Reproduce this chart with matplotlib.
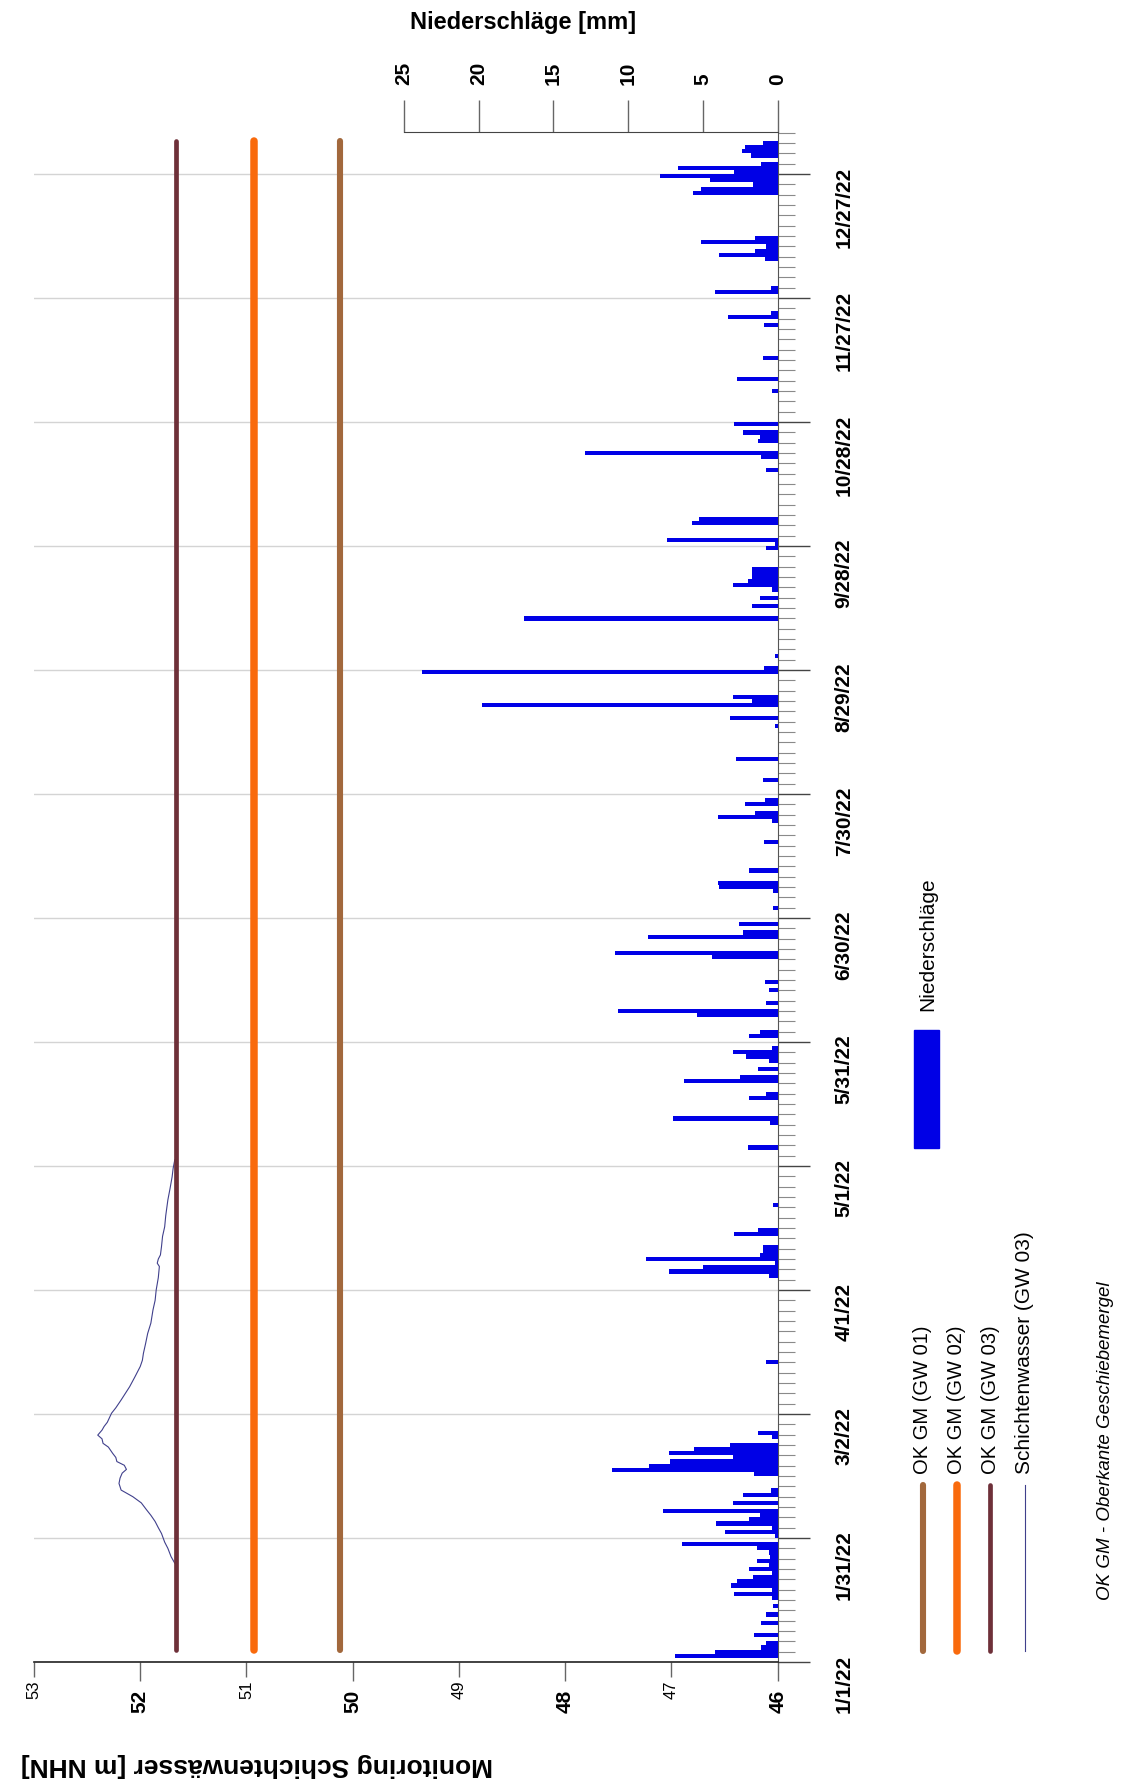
import numpy as np
import matplotlib
matplotlib.use('Agg')
import matplotlib.pyplot as plt
from matplotlib.lines import Line2D
from matplotlib.patches import Rectangle
from matplotlib.ticker import FixedLocator, MultipleLocator

plt.rcParams['font.family'] = ['Liberation Sans', 'DejaVu Sans']

START = np.datetime64('2022-01-01')

tick_dates = ['2022-01-01', '2022-01-31', '2022-03-02', '2022-04-01', '2022-05-01',
              '2022-05-31', '2022-06-30', '2022-07-30', '2022-08-29', '2022-09-28',
              '2022-10-28', '2022-11-27', '2022-12-27']
tick_labels = ['1/1/22', '1/31/22', '3/2/22', '4/1/22', '5/1/22', '5/31/22', '6/30/22',
               '7/30/22', '8/29/22', '9/28/22', '10/28/22', '11/27/22', '12/27/22']

# Oberkante Geschiebemergel der drei Messstellen
okgm_names = ['OK GM (GW 01)', 'OK GM (GW 02)', 'OK GM (GW 03)']
okgm_level = [50.12, 50.93, 51.66]
okgm_colors = ['#a2683c', '#f96a0c', '#6e3039']
okgm_lw = [4.4, 5.4, 3.4]
okgm_start = '2022-01-04'
okgm_end = '2023-01-04'

# Schichtenwasser GW 03 (Tage ab 1.1.22, m NHN)
sw_day = [23.9, 25.5, 27.5, 29.0, 31.1, 32.5, 34.0, 35.5, 36.8, 38.5, 40.0, 41.6, 43.2,
          44.5, 45.7, 46.6, 47.6, 48.5, 49.5, 50.5, 52.0, 52.9, 54.0, 54.9, 56.1, 57.0,
          58.0, 60.2, 61.5, 63.4, 65.0, 66.6, 69.0, 71.5, 73.0, 74.7, 77.0, 79.5, 82.0,
          85.2, 87.5, 90.0, 93.0, 95.7, 96.5, 97.5, 98.5, 100.5, 103.0, 105.3, 108.0,
          111.8, 114.5, 117.4, 119.5, 121.5]
sw_level = [51.675, 51.71, 51.74, 51.77, 51.80, 51.83, 51.86, 51.90, 51.94, 51.99, 52.07,
            52.18, 52.20, 52.19, 52.17, 52.13, 52.15, 52.22, 52.23, 52.26, 52.30, 52.35,
            52.36, 52.40, 52.36, 52.34, 52.31, 52.27, 52.23, 52.18, 52.14, 52.10, 52.05,
            52.00, 51.98, 51.97, 51.95, 51.93, 51.90, 51.88, 51.86, 51.85, 51.83, 51.82,
            51.84, 51.83, 51.81, 51.80, 51.79, 51.77, 51.76, 51.74, 51.72, 51.70, 51.69,
            51.675]

# Tagesniederschlag (Tage ab 1.1.22, mm)
rain_day = [1, 2, 3, 4, 6, 9, 11, 13, 15, 16, 17, 18, 19, 20, 21, 22, 23, 24, 25, 26, 27, 28,
            30, 31, 32, 33, 34, 35, 36, 38, 40, 41, 45, 46, 47, 48, 49, 50, 51, 52, 54, 55,
            72, 93, 94, 95, 96, 97, 98, 99, 100, 103, 104, 110, 124, 130, 131, 136, 137,
            140, 141, 143, 145, 146, 147, 148, 151, 152, 156, 157, 159, 162, 164, 170, 171,
            175, 176, 178, 182, 186, 187, 188, 191, 198, 203, 204, 205, 207, 208, 213, 218,
            226, 228, 231, 232, 233, 239, 240, 243, 252, 255, 257, 259, 260, 261, 262, 263,
            264, 269, 270, 271, 275, 276, 288, 291, 292, 295, 296, 297, 299, 307, 310, 315,
            323, 325, 326, 331, 332, 339, 340, 341, 342, 343, 344, 355, 356, 357, 358, 359,
            360, 361, 362, 364, 365, 366, 367]
rain_mm = [6.9, 4.2, 1.1, 0.75, 1.6, 1.1, 0.75, 0.3, 0.35, 2.9, 0.35, 3.1, 2.75, 1.65, 0.35,
           1.9, 0.55, 1.4, 0.5, 0.55, 1.4, 6.4,
           0.2, 3.55, 0.4, 4.1, 1.9, 1.2, 7.7, 3.0, 2.35, 0.45, 1.6, 11.1, 8.6, 7.2, 3.0, 7.3,
           5.6, 3.2, 0.35, 1.35,
           0.75, 0.6, 7.3, 5.0, 0.15, 8.8, 1.2, 1.0, 0.95, 2.9, 1.35, 0.3, 2.0, 0.5, 7.0, 1.9,
           0.75,
           6.25, 2.5, 1.35, 0.6, 2.1, 3.0, 0.4, 1.9, 1.2, 5.4, 10.7, 0.75, 0.6, 0.85, 4.4, 10.9,
           8.7, 2.35, 2.6, 0.3, 0.3, 3.9, 4.0, 1.9, 0.9, 0.4, 4.0, 1.5, 2.2, 0.85, 1.0, 2.8,
           0.2, 3.2, 19.8, 1.75, 3.0, 23.8, 0.9, 0.15, 17.0, 1.7, 1.2, 0.4, 3.0, 2.0, 1.75, 1.75,
           1.75, 0.75, 0.15, 7.4, 5.7, 5.25, 0.75, 1.1, 12.9, 1.35, 1.2, 2.35, 2.9, 0.4, 2.75, 1.0,
           0.9, 3.3, 0.45, 4.2, 0.45, 0.85, 3.9, 1.5, 0.75, 5.1, 1.5, 5.65, 5.15, 1.65, 4.55, 7.9,
           2.9, 6.7, 1.1, 1.8, 2.4, 2.2, 1.0]


def day(s):
    return (np.datetime64(s) - START).astype(int)


W, H = 1131, 1791


def fx(px):
    return px / W


def fy(py):
    return 1 - py / H


fig = plt.figure(figsize=(W / 100, H / 100), dpi=100)
ax = fig.add_axes([fx(34), fy(1662), (777.7 - 34) / W, (1662 - 132) / H])
ax.set_xlim(53, 46)
ax.set_ylim(0, 370.2)

# Datumsachse rechts
ax.yaxis.tick_right()
ax.yaxis.set_major_locator(FixedLocator([day(d) for d in tick_dates]))
ax.set_yticklabels(tick_labels, fontsize=15, fontweight='bold', rotation=90)
ax.yaxis.set_minor_locator(MultipleLocator(2.5))
ax.tick_params(axis='y', which='major', length=23, width=1, color='#444444', pad=18)
ax.tick_params(axis='y', which='minor', length=12, width=0.8, color='#8a8a8a')
ax.grid(axis='y', which='major', color='#d4d4d4', lw=1)

# Wasserstandsachse unten
ax.set_xticks([46, 48, 50, 52])
ax.set_xticklabels(['46', '48', '50', '52'], fontsize=15, fontweight='bold', rotation=90)
ax.set_xticks([47, 49, 51, 53], minor=True)
ax.set_xticklabels(['47', '49', '51', '53'], minor=True, fontsize=12, rotation=90)
ax.tick_params(axis='x', which='major', length=14, width=1, color='#666666', pad=6)
ax.tick_params(axis='x', which='minor', length=11, width=1, color='#666666', pad=2)

for s in ['left', 'top']:
    ax.spines[s].set_visible(False)
ax.spines['right'].set_color('#555555')
ax.spines['bottom'].set_color('#222222')
ax.spines['bottom'].set_linewidth(1.2)

ax.plot(sw_level, sw_day, color='#40408c', lw=0.8, zorder=3)
for lev, col, lw in zip(okgm_level, okgm_colors, okgm_lw):
    ax.plot([lev, lev], [day(okgm_start), day(okgm_end)], color=col, lw=lw,
            solid_capstyle='round', zorder=4)

# Niederschlag, obere Achse
ax2 = ax.twiny()
ax2.set_xlim(49.75, 0)
ax2.barh(rain_day, rain_mm, height=1, align='edge', color='#0000e6', zorder=3)
for s in ['left', 'right', 'bottom']:
    ax2.spines[s].set_visible(False)
ax2.spines['top'].set_bounds(0, 25)
ax2.spines['top'].set_color('#444444')
ax2.set_xticks([0, 5, 10, 15, 20, 25])
ax2.set_xticklabels(['0', '5', '10', '15', '20', '25'], fontsize=15, fontweight='bold',
                    rotation=90)
ax2.tick_params(axis='x', length=23, width=1, color='#666666', pad=11)

fig.text(fx(410), fy(22), 'Niederschläge [mm]', fontsize=17, fontweight='bold',
         ha='left', va='center')
fig.text(fx(257), fy(1765), 'Monitoring Schichtenwässer [m NHN]', fontsize=19,
         fontweight='bold', rotation=180, ha='center', va='center')

# Legende
leg_x = [923, 957, 990]
for x, name, col, lw in zip(leg_x, okgm_names, okgm_colors, okgm_lw):
    fig.add_artist(Line2D([fx(x), fx(x)], [fy(1485), fy(1651)], color=col, lw=lw,
                          solid_capstyle='round'))
    fig.text(fx(x), fy(1474), name, fontsize=14.5, rotation=90, ha='center', va='bottom')
fig.add_artist(Line2D([fx(1025), fx(1025)], [fy(1485), fy(1651)], color='#40408c', lw=0.8))
fig.text(fx(1025), fy(1474), 'Schichtenwasser (GW 03)', fontsize=15, rotation=90,
         ha='center', va='bottom')
fig.add_artist(Rectangle((fx(914), fy(1148)), (939 - 914) / W, (1148 - 1030) / H,
                         transform=fig.transFigure, color='#0000e6'))
fig.text(fx(928), fy(1011), 'Niederschläge', fontsize=15, rotation=90,
         ha='center', va='bottom')
fig.text(fx(1106), fy(1600), 'OK GM - Oberkante Geschiebemergel', fontsize=13.5,
         style='italic', rotation=90, ha='center', va='bottom')

fig.savefig('out.png', dpi=100)
